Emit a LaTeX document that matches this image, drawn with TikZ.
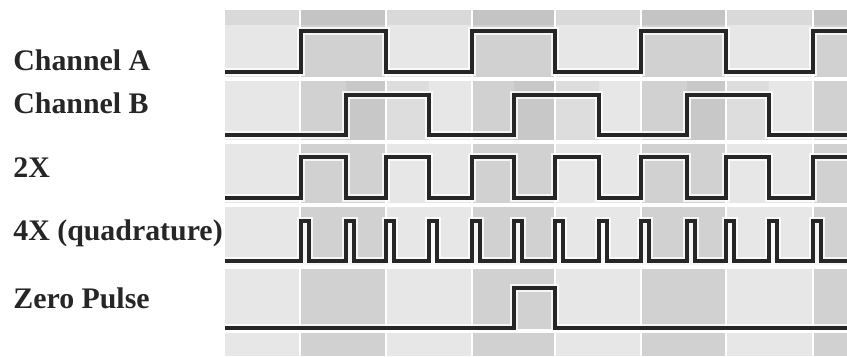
\documentclass[tikz,border=0pt]{standalone}
\usepackage{fontspec}
\setmainfont{Liberation Serif}
\usetikzlibrary{calc}

\begin{document}
\begin{tikzpicture}[x=0.02cm, y=-0.02cm, wave/.style={draw=black!85, line width=2pt, line join=miter, preaction={draw=white, line width=4.5pt, opacity=0.8}}, label node/.style={anchor=base west, inner sep=0, text=black!85, font=\fontsize{17}{20}\selectfont\bfseries}, gap/.style={fill=white}]
\useasboundingbox (0,0) rectangle (847,356);
% shaded columns
\foreach \xa/\xb/\c in {225/300/19, 300/386/36, 386/472/19, 472/555/36, 555/641/19, 641/726/36, 726/813/19, 813/847/36}
  \fill[gray!\c] (\xa,10) rectangle (\xb,356);
\fill[black, opacity=0.06] (225,10) rectangle (847,25);
\foreach \xa/\xb in {346/429, 514/599, 687/769}
  \fill[black, opacity=0.04] (\xa,81) rectangle (\xb,140);
\foreach \y in {79,142,205,267,331}
  \fill[gap] (225,\y-2) rectangle (847,\y+2);
\foreach \x in {300,386,472,555,641,726,813}
  \draw[white, line width=0.8pt] (\x,10) -- (\x,356);
% labels
\node[label node] (chA) at (13,70) {Channel A};
\node[label node] (chB) at (13,113) {Channel B};
\node[label node] (twoX) at (13,177) {2X};
\node[label node] (fourX) at (13,240) {4X (quadrature)};
\node[label node] (zero) at (13,308) {Zero Pulse};
% waveforms
\draw[wave] (225,72) foreach \r/\f in {301/386, 472/555, 641/726} { -- (\r,72) -- (\r,31) -- (\f,31) -- (\f,72) } -- (813,72) -- (813,31) -- (847,31);
\draw[wave] (225,135) foreach \r/\f in {346/429, 514/599, 687/769} { -- (\r,135) -- (\r,95) -- (\f,95) -- (\f,135) } -- (847,135);
\draw[wave] (225,198) foreach \r/\f in {301/346, 386/429, 472/514, 555/599, 641/687, 726/769} { -- (\r,198) -- (\r,157) -- (\f,157) -- (\f,198) } -- (813,198) -- (813,157) -- (847,157);
\draw[wave] (225,261) foreach \e in {301,346,386,429,472,514,555,599,641,687,726,769,813} { -- (\e,261) -- (\e,221) -- (\e+8,221) -- (\e+8,261) } -- (847,261);
\draw[wave] (225,328) -- (514,328) -- (514,288) -- (555,288) -- (555,328) -- (847,328);
\end{tikzpicture}
\end{document}
